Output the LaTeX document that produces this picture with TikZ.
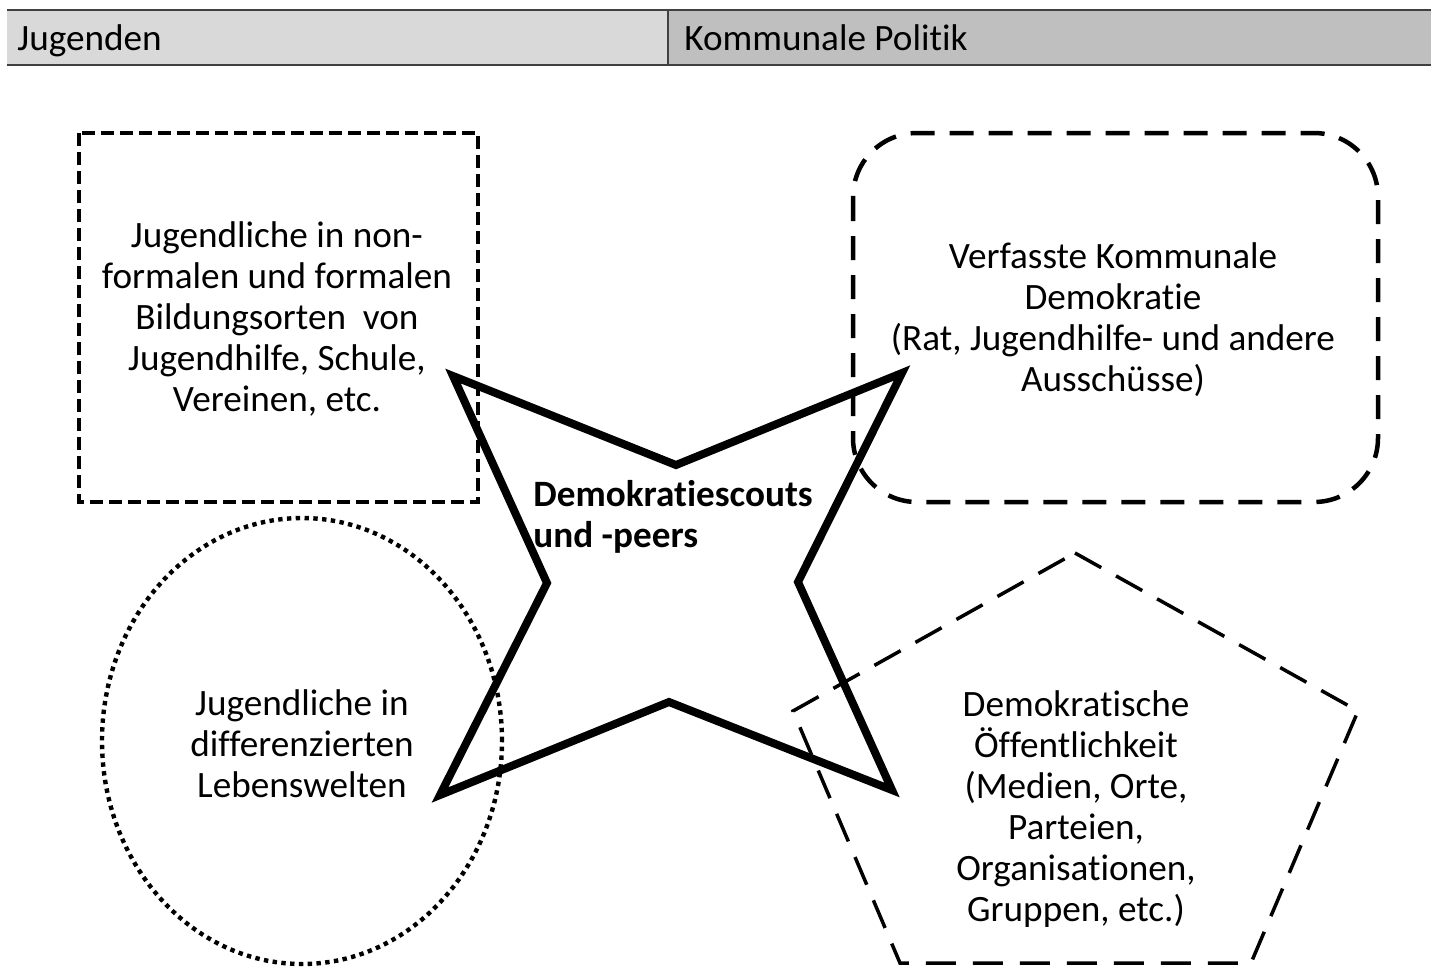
\documentclass[tikz,border=0pt]{standalone}
\usepackage{fontspec}
\setmainfont{Carlito}[Ligatures=NoCommon]
\definecolor{headleft}{HTML}{D9D9D9}
\definecolor{headright}{HTML}{BFBFBF}
\definecolor{headline}{HTML}{404040}
\tikzset{
  fieldtext/.style={align=center, inner sep=0pt, font=\fontsize{18.6pt}{20.5pt}\selectfont},
  headtext/.style={anchor=base west, inner sep=0pt, font=\fontsize{18.6pt}{20.5pt}\selectfont},
  squareline/.style={line width=2.25pt, dash pattern=on 6.5pt off 3pt},
  roundline/.style={line width=2.25pt, dash pattern=on 12pt off 7.5pt, rounded corners=32pt},
  dotline/.style={line width=2.2pt, dash pattern=on 2.2pt off 2.2pt},
  pentaline/.style={line width=1.75pt, dash pattern=on 15pt off 8.5pt},
  starline/.style={line width=4pt, line join=miter},
}
\begin{document}
\begin{tikzpicture}[x=0.5pt,y=-0.5pt]

  \useasboundingbox (0,0) rectangle (1431,966);

  % header bar
  \fill[headleft] (7,10) rectangle (668,65);
  \fill[headright] (668,10) rectangle (1431,65);
  \draw[headline, line width=1pt] (7,10) -- (1431,10) (7,65) -- (1431,65);
  \draw[headline, line width=0.6pt] (668,10) -- (668,65);
  \node[headtext] (jugenden) at (17,50) {Jugenden};
  \node[headtext] (politik) at (684,50) {Kommunale Politik};

  % the four fields
  \draw[squareline] (79,133) rectangle (478,502);
  \draw[roundline] (853,133) rectangle (1378,502);
  \draw[dotline] (302,741) ellipse [x radius=100pt, y radius=111.5pt];
  \draw[pentaline] (1075,553) -- (1358,711) -- (1251,963) -- (900,963) -- (793,711) -- cycle;

  % star in the middle
  \draw[starline] (453,376) -- (676,465) -- (902,373) -- (798,582) -- (892,790)
    -- (669,702) -- (440,795) -- (547,583) -- cycle;

  \node[fieldtext] (bildung) at (277,319) {Jugendliche in non-\\formalen und formalen\\Bildungsorten\ \ von\\Jugendhilfe, Schule,\\Vereinen, etc.};
  \node[fieldtext] (rat) at (1113,320) {Verfasste Kommunale\\Demokratie\\(Rat, Jugendhilfe- und andere\\Ausschüsse)};
  \node[fieldtext] (lebenswelt) at (302,744) {Jugendliche in\\differenzierten\\Lebenswelten};
  \node[fieldtext] (oeffentlich) at (1076,809) {Demokratische\\Öffentlichkeit\\(Medien, Orte,\\Parteien,\\Organisationen,\\Gruppen, etc.)};
  \node[fieldtext, anchor=west, align=left, font=\fontsize{18.6pt}{20.5pt}\selectfont\bfseries] (scouts) at (533,517) {Demokratiescouts\\und -peers};

\end{tikzpicture}
\end{document}
